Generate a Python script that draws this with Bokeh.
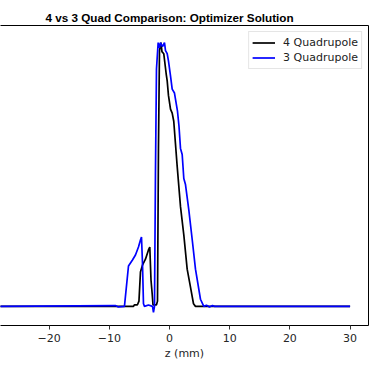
from bokeh.plotting import figure
from bokeh.models import Range1d, FixedTicker, LinearAxis, Legend, LegendItem, Title
from bokeh.embed import file_html
from bokeh.resources import INLINE

# 4 Quadrupole solution (z in mm, normalized value)
z4 = [-30.0, -6.0, -5.81, -5.32, -5.07, -4.82, -4.49, -3.99, -3.49, -3.27, -3.07, -2.87,
      -2.74, -2.16, -1.99, -1.83, -1.66, -1.41, -1.25, -0.95, -0.55, -0.38, -0.17, 0.17,
      0.45, 0.71, 1.28, 1.83, 2.38, 2.94, 3.49, 3.99, 4.32, 30.0]
v4 = [0.0, 0.0, 0.006, 0.006, 0.02, 0.130, 0.156, 0.179, 0.214, 0.225, 0.10, 0.047,
      0.006, 0.006, 0.02, 0.6, 0.97, 1.0, 0.966, 0.958, 0.882, 0.855, 0.80, 0.748,
      0.733, 0.702, 0.531, 0.378, 0.271, 0.141, 0.073, 0.01, 0.0, 0.0]

# 3 Quadrupole solution
z3 = [-30.0, -9.0, -8.5, -7.48, -6.81, -6.15, -5.65, -5.15, -4.82, -4.65, -4.49, -4.32,
      -4.15, -3.49, -2.82, -2.66, -2.49, -2.33, -2.16, -1.88, -1.66, -1.5, -1.16, -0.83,
      -0.66, -0.38, -0.17, 0.17, 0.45, 0.83, 1.33, 1.58, 1.83, 2.11, 2.38, 2.66, 3.21,
      3.82, 4.32, 5.15, 5.70, 6.15, 6.64, 7.14, 7.5, 30.0]
v3 = [0.0, 0.003, -0.002, 0.0, 0.153, 0.176, 0.195, 0.225, 0.252, 0.263, 0.168, 0.01,
      0.0, 0.005, 0.0, -0.023, 0.0, 0.5, 0.9, 1.0, 0.98, 1.0, 0.985, 1.0,
      0.97, 0.958, 0.931, 0.874, 0.824, 0.809, 0.740, 0.683, 0.599, 0.576, 0.485, 0.462, 0.366,
      0.244, 0.141, 0.027, 0.0, 0.004, -0.002, 0.003, 0.0, 0.0]

x_ticks = [-30, -20, -10, 0, 10, 20, 30]
title_text = "4 vs 3 Quad Comparison: Optimizer Solution"
x_label = "z (mm)"

p = figure(width=372, height=362, output_backend="svg", toolbar_location=None,
           x_range=Range1d(-28.07, 33.06), y_range=Range1d(-0.0725, 1.065),
           y_axis_location=None, min_border_left=0, min_border_right=4,
           min_border_top=25, min_border_bottom=0)
p.outline_line_color = None
p.grid.visible = False
p.background_fill_color = "white"
p.border_fill_color = "white"

p.title = Title(text=title_text, align="left", offset=45, standoff=4,
                text_font="Liberation Sans", text_font_size="11.7px",
                text_font_style="bold", text_color="black")

xa = p.xaxis[0]
xa.ticker = FixedTicker(ticks=x_ticks)
xa.minor_tick_line_color = None
xa.major_tick_in = 0
xa.major_tick_out = 4
xa.axis_line_color = "black"
xa.major_tick_line_color = "#333333"
xa.major_label_text_font = "DejaVu Sans"
xa.major_label_text_font_size = "11px"
xa.major_label_text_color = "#262626"
xa.major_label_standoff = 4
xa.axis_label = x_label
xa.axis_label_text_font = "DejaVu Sans"
xa.axis_label_text_font_size = "11px"
xa.axis_label_text_font_style = "normal"
xa.axis_label_text_color = "#262626"
xa.axis_label_standoff = 2

# spines (top and right) as bare axes
for loc in ("right", "above"):
    ax = LinearAxis(ticker=FixedTicker(ticks=[]), axis_line_color="black",
                    major_tick_line_color=None, minor_tick_line_color=None,
                    major_tick_out=0, major_tick_in=0, major_label_standoff=0,
                    major_label_text_font_size="0px")
    p.add_layout(ax, loc)

r4 = p.line(z4, v4, line_color="black", line_width=1.7)
r3 = p.line(z3, v3, line_color="blue", line_width=1.7)

legend = Legend(items=[LegendItem(label="4 Quadrupole", renderers=[r4]),
                       LegendItem(label="3 Quadrupole", renderers=[r3])],
                location="top_right", margin=6, padding=3, spacing=0,
                label_text_font="DejaVu Sans", label_text_font_size="11px",
                label_text_color="#222222", label_height=15, glyph_height=15,
                glyph_width=23, label_standoff=8,
                border_line_color="#cccccc", border_line_width=1,
                background_fill_alpha=0.8)
p.add_layout(legend, "center")

open("out.html", "w").write(file_html(p, INLINE))
